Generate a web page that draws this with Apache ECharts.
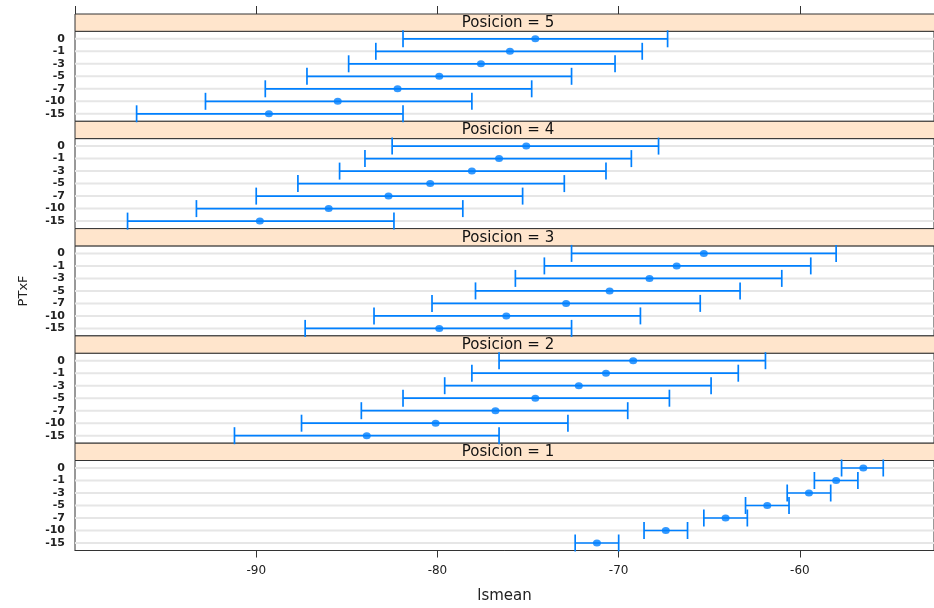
<!DOCTYPE html>
<html>
<head>
<meta charset="utf-8">
<title>lsmean por Posicion</title>
<script src="https://cdn.jsdelivr.net/npm/echarts@6/dist/echarts.min.js"></script>
<style>
  html, body { margin: 0; padding: 0; background: #fff; }
  #chart { width: 934px; height: 608px; }
</style>
</head>
<body>
<div id="chart"></div>
<script>
// niveles de PTxF (arriba -> abajo en cada panel)
const ptxf = ['0', '-1', '-3', '-5', '-7', '-10', '-15'];
// paneles de arriba a abajo
const posiciones = [5, 4, 3, 2, 1];

// lsmean y limites del intervalo de confianza
const lsmean5 = [-74.6, -76.0, -77.6, -79.9, -82.2, -85.5, -89.3];
const lower5  = [-81.9, -83.4, -84.9, -87.2, -89.5, -92.8, -96.6];
const upper5  = [-67.3, -68.7, -70.2, -72.6, -74.8, -78.1, -81.9];

const lsmean4 = [-75.1, -76.6, -78.1, -80.4, -82.7, -86.0, -89.8];
const lower4  = [-82.5, -84.0, -85.4, -87.7, -90.0, -93.3, -97.1];
const upper4  = [-67.8, -69.3, -70.7, -73.0, -75.3, -78.6, -82.4];

const lsmean3 = [-65.3, -66.8, -68.3, -70.5, -72.9, -76.2, -79.9];
const lower3  = [-72.6, -74.1, -75.7, -77.9, -80.3, -83.5, -87.3];
const upper3  = [-58.0, -59.4, -61.0, -63.3, -65.5, -68.8, -72.6];

const lsmean2 = [-69.2, -70.7, -72.2, -74.6, -76.8, -80.1, -83.9];
const lower2  = [-76.6, -78.1, -79.6, -81.9, -84.2, -87.5, -91.2];
const upper2  = [-61.9, -63.4, -64.9, -67.2, -69.5, -72.8, -76.6];

const lsmean1 = [-56.5, -58.0, -59.5, -61.8, -64.1, -67.4, -71.2];
const lower1  = [-57.7, -59.2, -60.7, -63.0, -65.3, -68.6, -72.4];
const upper1  = [-55.4, -56.8, -58.3, -60.6, -62.9, -66.2, -70.0];

const lsmeanBy = { 1: lsmean1, 2: lsmean2, 3: lsmean3, 4: lsmean4, 5: lsmean5 };
const lowerBy = { 1: lower1, 2: lower2, 3: lower3, 4: lower4, 5: lower5 };
const upperBy = { 1: upper1, 2: upper2, 3: upper3, 4: upper4, 5: upper5 };

const X_MIN = -100, X_MAX = -52.6;
const LEFT = 75, WIDTH = 866;
const TOP = 14, STEP = 107.3, STRIP = 17.3, PLOT = 90;
const BLUE = '#0080ff';
const FRAME = '#333';
const FONT = 'DejaVu Sans';

const chart = echarts.init(document.getElementById('chart'));

function renderRefLine(params, api) {
  const cs = params.coordSys;
  const y = api.coord([X_MIN, api.value(0)])[1];
  return {
    type: 'line',
    shape: { x1: cs.x, y1: y, x2: cs.x + cs.width, y2: y },
    style: { stroke: '#e6e6e6', lineWidth: 2 }
  };
}

function renderBar(params, api) {
  const row = api.value(1);
  const lo = api.coord([api.value(0), row]);
  const hi = api.coord([api.value(2), row]);
  const cap = 8.5;
  const style = { stroke: BLUE, lineWidth: 1.7 };
  return {
    type: 'group',
    children: [
      { type: 'line', shape: { x1: lo[0], y1: lo[1], x2: hi[0], y2: hi[1] }, style: style },
      { type: 'line', shape: { x1: lo[0], y1: lo[1] - cap, x2: lo[0], y2: lo[1] + cap }, style: style },
      { type: 'line', shape: { x1: hi[0], y1: hi[1] - cap, x2: hi[0], y2: hi[1] + cap }, style: style }
    ]
  };
}

const rowPos = ptxf.map((_, i) => i + 1);
const grids = [], xAxes = [], yAxes = [], series = [], graphics = [];

posiciones.forEach((pos, k) => {
  const stripTop = TOP + k * STEP;
  const last = k === posiciones.length - 1;

  grids.push({
    left: LEFT, width: WIDTH, top: stripTop + STRIP, height: PLOT,
    show: true, borderColor: FRAME, borderWidth: 1
  });

  xAxes.push({
    gridIndex: k, type: 'value', min: X_MIN, max: X_MAX, interval: 10,
    axisLine: { show: last, onZero: false, lineStyle: { color: FRAME } },
    axisTick: { show: last, length: 7, lineStyle: { color: FRAME } },
    axisLabel: {
      show: last, showMinLabel: false, showMaxLabel: false,
      color: '#222', fontFamily: FONT, fontSize: 12, margin: 14
    },
    splitLine: { show: false },
    name: last ? 'lsmean' : '',
    nameLocation: 'middle', nameGap: 38,
    nameTextStyle: { color: '#222', fontFamily: FONT, fontSize: 15 }
  });

  yAxes.push({
    gridIndex: k, type: 'value', inverse: true, min: 0.4, max: 7.6,
    axisLine: { show: false }, axisTick: { show: false }, splitLine: { show: false },
    axisLabel: {
      customValues: rowPos,
      formatter: v => ptxf[Math.round(v) - 1],
      color: '#222', fontFamily: FONT, fontSize: 11, fontWeight: 'bold', margin: 10
    },
    name: k === 2 ? 'PTxF' : '',
    nameLocation: 'middle', nameGap: 45,
    nameTextStyle: { color: '#222', fontFamily: FONT, fontSize: 13 }
  });

  series.push({
    type: 'custom', xAxisIndex: k, yAxisIndex: k, z: 1, silent: true,
    renderItem: renderRefLine,
    encode: { y: 0 },
    data: rowPos.map(r => [r])
  });
  series.push({
    type: 'custom', xAxisIndex: k, yAxisIndex: k, z: 2,
    renderItem: renderBar,
    encode: { x: [0, 2], y: 1 },
    data: ptxf.map((_, i) => [lowerBy[pos][i], rowPos[i], upperBy[pos][i]])
  });
  series.push({
    type: 'scatter', xAxisIndex: k, yAxisIndex: k, z: 3,
    symbol: 'circle', symbolSize: [8, 7],
    itemStyle: { color: BLUE },
    data: ptxf.map((_, i) => [lsmeanBy[pos][i], rowPos[i]])
  });

  graphics.push({
    type: 'rect',
    shape: { x: LEFT, y: stripTop, width: WIDTH, height: STRIP },
    style: { fill: '#ffe5cc', stroke: FRAME, lineWidth: 1 }
  });
  graphics.push({
    type: 'text',
    x: LEFT + WIDTH / 2, y: stripTop + STRIP / 2 + 0.5,
    style: {
      text: 'Posicion = ' + pos, fill: '#111',
      font: '15px "' + FONT + '"', textAlign: 'center', textVerticalAlign: 'middle'
    }
  });
});

// ticks superiores, sobre la primera tira
grids.push({ left: LEFT, width: WIDTH, top: TOP, height: STRIP });
xAxes.push({
  gridIndex: 5, type: 'value', position: 'top', min: X_MIN, max: X_MAX, interval: 10,
  axisLine: { show: false, onZero: false },
  axisTick: { show: true, inside: false, length: 8, lineStyle: { color: FRAME } },
  axisLabel: { show: false }, splitLine: { show: false }
});
yAxes.push({ gridIndex: 5, type: 'value', min: 0, max: 1, show: false });

chart.setOption({
  animation: false,
  backgroundColor: '#fff',
  grid: grids,
  xAxis: xAxes,
  yAxis: yAxes,
  series: series,
  graphic: graphics
});
</script>
</body>
</html>
